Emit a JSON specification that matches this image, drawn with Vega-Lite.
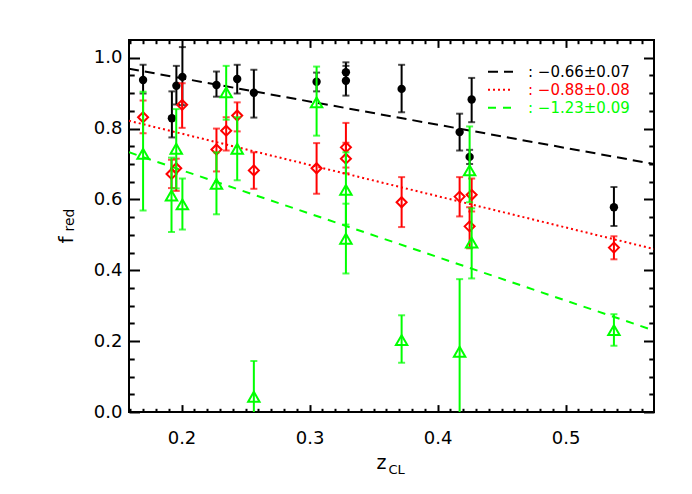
{
  "$schema": "https://vega.github.io/schema/vega-lite/v6.json",
  "width": 525,
  "height": 372,
  "autosize": {"type": "none"},
  "padding": {"left": 129, "top": 40, "right": 38, "bottom": 82},
  "background": "white",
  "config": {
    "font": "DejaVu Sans",
    "view": {"stroke": "black", "strokeWidth": 2},
    "axis": {"grid": false, "domain": false, "tickColor": "black", "tickWidth": 2, "labelColor": "black", "titleColor": "black", "titleFontWeight": "normal", "labelFont": "DejaVu Sans", "titleFont": "DejaVu Sans", "labelFlush": false}
  },
  "datasets": {
    "fits": [
      {"fit": "−0.66±0.07", "z": 0.159, "f": 0.969},
      {"fit": "−0.66±0.07", "z": 0.569, "f": 0.700},
      {"fit": "−0.88±0.08", "z": 0.159, "f": 0.822},
      {"fit": "−0.88±0.08", "z": 0.569, "f": 0.460},
      {"fit": "−1.23±0.09", "z": 0.159, "f": 0.733},
      {"fit": "−1.23±0.09", "z": 0.569, "f": 0.230}
    ],
    "black": [
      {"z": 0.170, "f": 0.937, "lo": 0.899, "hi": 0.980},
      {"z": 0.1925, "f": 0.829, "lo": 0.775, "hi": 0.905},
      {"z": 0.196, "f": 0.921, "lo": 0.868, "hi": 0.977},
      {"z": 0.2007, "f": 0.946, "lo": 0.866, "hi": 1.030},
      {"z": 0.2273, "f": 0.923, "lo": 0.890, "hi": 0.961},
      {"z": 0.2435, "f": 0.940, "lo": 0.899, "hi": 0.980},
      {"z": 0.2565, "f": 0.901, "lo": 0.831, "hi": 0.966},
      {"z": 0.3055, "f": 0.932, "lo": 0.905, "hi": 0.958},
      {"z": 0.3284, "f": 0.959, "lo": 0.935, "hi": 0.987},
      {"z": 0.3284, "f": 0.935, "lo": 0.893, "hi": 0.977},
      {"z": 0.3719, "f": 0.912, "lo": 0.846, "hi": 0.980},
      {"z": 0.4172, "f": 0.790, "lo": 0.738, "hi": 0.842},
      {"z": 0.4266, "f": 0.882, "lo": 0.818, "hi": 0.943},
      {"z": 0.425, "f": 0.720, "lo": 0.700, "hi": 0.740},
      {"z": 0.5377, "f": 0.578, "lo": 0.525, "hi": 0.635}
    ],
    "red": [
      {"z": 0.170, "f": 0.832, "lo": 0.787, "hi": 0.879},
      {"z": 0.2005, "f": 0.867, "lo": 0.802, "hi": 0.928},
      {"z": 0.1922, "f": 0.672, "lo": 0.632, "hi": 0.712},
      {"z": 0.1959, "f": 0.688, "lo": 0.624, "hi": 0.715},
      {"z": 0.2273, "f": 0.741, "lo": 0.679, "hi": 0.800},
      {"z": 0.2349, "f": 0.794, "lo": 0.738, "hi": 0.832},
      {"z": 0.2435, "f": 0.837, "lo": 0.792, "hi": 0.874},
      {"z": 0.2565, "f": 0.682, "lo": 0.630, "hi": 0.733},
      {"z": 0.3055, "f": 0.688, "lo": 0.616, "hi": 0.759},
      {"z": 0.3284, "f": 0.747, "lo": 0.690, "hi": 0.816},
      {"z": 0.3284, "f": 0.715, "lo": 0.674, "hi": 0.760},
      {"z": 0.3719, "f": 0.592, "lo": 0.522, "hi": 0.663},
      {"z": 0.4172, "f": 0.608, "lo": 0.552, "hi": 0.663},
      {"z": 0.4266, "f": 0.613, "lo": 0.566, "hi": 0.659},
      {"z": 0.425, "f": 0.524, "lo": 0.462, "hi": 0.578},
      {"z": 0.5377, "f": 0.464, "lo": 0.431, "hi": 0.496}
    ],
    "green": [
      {"z": 0.170, "f": 0.729, "lo": 0.569, "hi": 0.904},
      {"z": 0.1959, "f": 0.743, "lo": 0.631, "hi": 0.855},
      {"z": 0.1922, "f": 0.611, "lo": 0.508, "hi": 0.718},
      {"z": 0.2007, "f": 0.586, "lo": 0.515, "hi": 0.659},
      {"z": 0.2273, "f": 0.644, "lo": 0.558, "hi": 0.733},
      {"z": 0.2349, "f": 0.902, "lo": 0.825, "hi": 0.977},
      {"z": 0.2435, "f": 0.743, "lo": 0.654, "hi": 0.832},
      {"z": 0.2565, "f": 0.043, "lo": -0.06, "hi": 0.144},
      {"z": 0.3055, "f": 0.874, "lo": 0.780, "hi": 0.975},
      {"z": 0.3284, "f": 0.627, "lo": 0.529, "hi": 0.733},
      {"z": 0.3284, "f": 0.489, "lo": 0.391, "hi": 0.588},
      {"z": 0.3719, "f": 0.203, "lo": 0.139, "hi": 0.273},
      {"z": 0.425, "f": 0.682, "lo": 0.592, "hi": 0.806},
      {"z": 0.4266, "f": 0.478, "lo": 0.377, "hi": 0.575},
      {"z": 0.4172, "f": 0.170, "lo": -0.04, "hi": 0.375},
      {"z": 0.5377, "f": 0.231, "lo": 0.187, "hi": 0.276}
    ]
  },
  "resolve": {"axis": {"x": "independent", "y": "independent"}},
  "layer": [
    {
      "data": {"name": "fits"},
      "mark": {"type": "line", "strokeWidth": 2, "clip": true},
      "encoding": {
        "x": {"field": "z", "type": "quantitative", "scale": {"domain": [0.159, 0.569], "nice": false, "zero": false},
          "axis": {"orient": "bottom", "values": [0.2, 0.3, 0.4, 0.5], "format": ".1f", "ticks": false, "labelFontSize": 18, "labelPadding": 17, "title": "z", "titleFontSize": 19, "titleX": 247, "titleY": 56, "titleAlign": "left", "titleBaseline": "alphabetic", "titleAngle": 0}},
        "y": {"field": "f", "type": "quantitative", "scale": {"domain": [0, 1.05], "nice": false, "zero": false},
          "axis": {"orient": "left", "values": [0, 0.2, 0.4, 0.6, 0.8, 1.0], "format": ".1f", "ticks": false, "labelFontSize": 18, "labelPadding": 7, "title": "f", "titleFontSize": 20, "titleX": -57, "titleY": 203, "titleAngle": -90, "titleAlign": "left", "titleBaseline": "alphabetic"}},
        "color": {"field": "fit", "type": "nominal",
          "scale": {"domain": ["−0.66±0.07", "−0.88±0.08", "−1.23±0.09"], "range": ["#000000", "#ff0000", "#00ff00"]},
          "legend": {"orient": "none", "legendX": 358, "legendY": 23, "title": null, "direction": "vertical", "labelFontSize": 15, "labelFont": "DejaVu Sans", "labelExpr": "':  ' + datum.label", "labelColor": {"expr": "datum.value == '−0.66±0.07' ? '#000000' : (datum.value == '−0.88±0.08' ? '#ff0000' : '#00ff00')"}, "symbolType": "stroke", "symbolSize": 625, "symbolStrokeWidth": 2, "clipHeight": 17.5, "rowPadding": 0, "padding": 0, "labelOffset": 14, "labelLimit": 0}},
        "strokeDash": {"field": "fit", "type": "nominal",
          "scale": {"domain": ["−0.66±0.07", "−0.88±0.08", "−1.23±0.09"], "range": [[10, 6], [2, 3], [8, 7]]},
          "legend": {"orient": "none", "legendX": 358, "legendY": 23, "title": null, "direction": "vertical", "labelFontSize": 15, "labelFont": "DejaVu Sans", "labelExpr": "':  ' + datum.label", "labelColor": {"expr": "datum.value == '−0.66±0.07' ? '#000000' : (datum.value == '−0.88±0.08' ? '#ff0000' : '#00ff00')"}, "symbolType": "stroke", "symbolSize": 625, "symbolStrokeWidth": 2, "clipHeight": 17.5, "rowPadding": 0, "padding": 0, "labelOffset": 14, "labelLimit": 0}}
      }
    },
    {
      "data": {"name": "black"},
      "mark": {"type": "rule", "color": "#000000", "strokeWidth": 2, "clip": true},
      "encoding": {
        "x": {"field": "z", "type": "quantitative", "scale": {"domain": [0.159, 0.569], "nice": false, "zero": false},
          "axis": {"orient": "bottom", "values": [0.2, 0.3, 0.4, 0.5], "labels": false, "tickSize": -7.4, "title": "CL", "titleFontSize": 13, "titleX": 259, "titleY": 61, "titleAlign": "left", "titleBaseline": "alphabetic", "titleAngle": 0}},
        "y": {"field": "lo", "type": "quantitative", "scale": {"domain": [0, 1.05], "nice": false, "zero": false},
          "axis": {"orient": "left", "values": [0, 0.2, 0.4, 0.6, 0.8, 1.0], "labels": false, "tickSize": -10.5, "title": "red", "titleFontSize": 14, "titleX": -56, "titleY": 191, "titleAngle": -90, "titleAlign": "left", "titleBaseline": "alphabetic"}},
        "y2": {"field": "hi"}
      }
    },
    {
      "data": {"name": "black"},
      "mark": {"type": "tick", "color": "#000000", "orient": "horizontal", "size": 7, "thickness": 2, "clip": true},
      "encoding": {
        "x": {"field": "z", "type": "quantitative", "scale": {"domain": [0.159, 0.569], "nice": false, "zero": false},
          "axis": {"orient": "bottom", "values": [0.16, 0.17, 0.18, 0.19, 0.21, 0.22, 0.23, 0.24, 0.25, 0.26, 0.27, 0.28, 0.29, 0.31, 0.32, 0.33, 0.34, 0.35, 0.36, 0.37, 0.38, 0.39, 0.41, 0.42, 0.43, 0.44, 0.45, 0.46, 0.47, 0.48, 0.49, 0.51, 0.52, 0.53, 0.54, 0.55, 0.56], "labels": false, "tickSize": -3.7, "title": null}},
        "y": {"field": "lo", "type": "quantitative", "scale": {"domain": [0, 1.05], "nice": false, "zero": false},
          "axis": {"orient": "left", "values": [0.05, 0.1, 0.15, 0.25, 0.3, 0.35, 0.45, 0.5, 0.55, 0.65, 0.7, 0.75, 0.85, 0.9, 0.95], "labels": false, "tickSize": -5.2, "title": null}}
      }
    },
    {
      "data": {"name": "black"},
      "mark": {"type": "tick", "color": "#000000", "orient": "horizontal", "size": 7, "thickness": 2, "clip": true},
      "encoding": {
        "x": {"field": "z", "type": "quantitative", "scale": {"domain": [0.159, 0.569], "nice": false, "zero": false},
          "axis": {"orient": "top", "values": [0.2, 0.3, 0.4, 0.5], "labels": false, "tickSize": -7.4, "title": null}},
        "y": {"field": "hi", "type": "quantitative", "scale": {"domain": [0, 1.05], "nice": false, "zero": false},
          "axis": {"orient": "right", "values": [0, 0.2, 0.4, 0.6, 0.8, 1.0], "labels": false, "tickSize": -10.5, "title": null}}
      }
    },
    {
      "data": {"name": "black"},
      "mark": {"type": "point", "shape": "circle", "filled": true, "size": 70, "color": "#000000", "opacity": 1},
      "encoding": {
        "x": {"field": "z", "type": "quantitative", "scale": {"domain": [0.159, 0.569], "nice": false, "zero": false},
          "axis": {"orient": "top", "values": [0.16, 0.17, 0.18, 0.19, 0.21, 0.22, 0.23, 0.24, 0.25, 0.26, 0.27, 0.28, 0.29, 0.31, 0.32, 0.33, 0.34, 0.35, 0.36, 0.37, 0.38, 0.39, 0.41, 0.42, 0.43, 0.44, 0.45, 0.46, 0.47, 0.48, 0.49, 0.51, 0.52, 0.53, 0.54, 0.55, 0.56], "labels": false, "tickSize": -3.7, "title": null}},
        "y": {"field": "f", "type": "quantitative", "scale": {"domain": [0, 1.05], "nice": false, "zero": false},
          "axis": {"orient": "right", "values": [0.05, 0.1, 0.15, 0.25, 0.3, 0.35, 0.45, 0.5, 0.55, 0.65, 0.7, 0.75, 0.85, 0.9, 0.95], "labels": false, "tickSize": -5.2, "title": null}}
      }
    },
    {
      "data": {"name": "red"},
      "mark": {"type": "rule", "color": "#ff0000", "strokeWidth": 2, "clip": true},
      "encoding": {
        "x": {"field": "z", "type": "quantitative", "axis": null},
        "y": {"field": "lo", "type": "quantitative", "axis": null},
        "y2": {"field": "hi"}
      }
    },
    {
      "data": {"name": "red"},
      "mark": {"type": "tick", "color": "#ff0000", "orient": "horizontal", "size": 7, "thickness": 2, "clip": true},
      "encoding": {
        "x": {"field": "z", "type": "quantitative", "axis": null},
        "y": {"field": "lo", "type": "quantitative", "axis": null}
      }
    },
    {
      "data": {"name": "red"},
      "mark": {"type": "tick", "color": "#ff0000", "orient": "horizontal", "size": 7, "thickness": 2, "clip": true},
      "encoding": {
        "x": {"field": "z", "type": "quantitative", "axis": null},
        "y": {"field": "hi", "type": "quantitative", "axis": null}
      }
    },
    {
      "data": {"name": "red"},
      "mark": {"type": "point", "shape": "diamond", "filled": false, "size": 100, "strokeWidth": 2, "color": "#ff0000", "opacity": 1},
      "encoding": {
        "x": {"field": "z", "type": "quantitative", "axis": null},
        "y": {"field": "f", "type": "quantitative", "axis": null}
      }
    },
    {
      "data": {"name": "green"},
      "mark": {"type": "rule", "color": "#00ff00", "strokeWidth": 2, "clip": true},
      "encoding": {
        "x": {"field": "z", "type": "quantitative", "axis": null},
        "y": {"field": "lo", "type": "quantitative", "axis": null},
        "y2": {"field": "hi"}
      }
    },
    {
      "data": {"name": "green"},
      "mark": {"type": "tick", "color": "#00ff00", "orient": "horizontal", "size": 7, "thickness": 2, "clip": true},
      "encoding": {
        "x": {"field": "z", "type": "quantitative", "axis": null},
        "y": {"field": "lo", "type": "quantitative", "axis": null}
      }
    },
    {
      "data": {"name": "green"},
      "mark": {"type": "tick", "color": "#00ff00", "orient": "horizontal", "size": 7, "thickness": 2, "clip": true},
      "encoding": {
        "x": {"field": "z", "type": "quantitative", "axis": null},
        "y": {"field": "hi", "type": "quantitative", "axis": null}
      }
    },
    {
      "data": {"name": "green"},
      "mark": {"type": "point", "shape": "triangle-up", "filled": false, "size": 130, "strokeWidth": 2, "color": "#00ff00", "opacity": 1},
      "encoding": {
        "x": {"field": "z", "type": "quantitative", "axis": null},
        "y": {"field": "f", "type": "quantitative", "axis": null}
      }
    }
  ]
}
